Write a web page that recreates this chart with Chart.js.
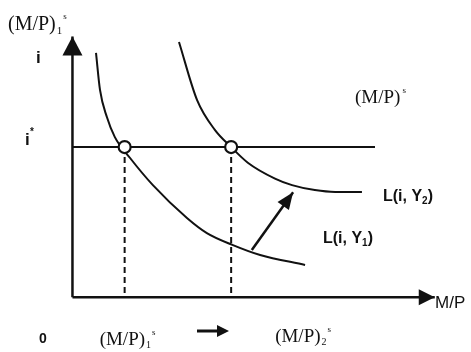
<!DOCTYPE html>
<html>
<head>
<meta charset="utf-8">
<script src="https://cdn.jsdelivr.net/npm/chart.js@4"></script>
<style>
  html, body { margin: 0; padding: 0; background: #fff; }
  canvas { display: block; }
</style>
</head>
<body>
<canvas id="chart" width="471" height="352"></canvas>
<script>
// money market: demand curves L(i,Y1), L(i,Y2), interest rate i*
var istar = 5.76;
var mp1 = 1.44;
var mp2 = 4.38;
var istarEnd = 8.35;
var axisMax = 10;

var demand1X = [0.65, 0.76, 0.95, 1.17, 1.59, 2.22, 3.16, 3.71, 4.43, 5.18, 6.42];
var demand1Y = [9.37, 7.95, 6.91, 6.14, 5.34, 4.30, 3.04, 2.46, 2.00, 1.62, 1.24];
var demand2X = [2.94, 3.44, 3.93, 4.38, 4.84, 5.59, 6.06, 6.69, 7.25, 7.99];
var demand2Y = [9.79, 7.56, 6.42, 5.76, 5.16, 4.55, 4.30, 4.11, 4.04, 4.04];
var shiftX = [4.95, 6.09];
var shiftY = [1.81, 4.03];

function pts(xs, ys) {
	return xs.map(function (x, i) { return { x: x, y: ys[i] }; });
}

var ink = '#111';

// filled head at the end of datasets marked arrow
var arrowHeads = {
	id: 'arrowHeads',
	afterDatasetsDraw: function (chart) {
		var ctx = chart.ctx;
		chart.data.datasets.forEach(function (ds, i) {
			if (!ds.arrow) return;
			var pts = chart.getDatasetMeta(i).data;
			var a = pts[pts.length - 2], b = pts[pts.length - 1];
			var ang = Math.atan2(b.y - a.y, b.x - a.x);
			var len = ds.arrow[0], half = ds.arrow[1];
			ctx.save();
			ctx.translate(b.x, b.y);
			ctx.rotate(ang);
			ctx.beginPath();
			ctx.moveTo(0, 0);
			ctx.lineTo(-len, -half);
			ctx.lineTo(-len, half);
			ctx.closePath();
			ctx.fillStyle = ink;
			ctx.fill();
			ctx.restore();
		});
	}
};

function mpLabel(ctx, x, base, size, sub) {
	ctx.font = size + 'px "Liberation Serif", "DejaVu Serif", serif';
	ctx.fillText('(M/P)', x, base);
	var w = ctx.measureText('(M/P)').width;
	var end = x + w + 1;
	if (sub) {
		ctx.font = Math.round(size * 0.55) + 'px "Liberation Serif", serif';
		ctx.fillText(sub, end, base + size * 0.18);
		end += ctx.measureText(sub).width;
	}
	ctx.font = Math.round(size * 0.45) + 'px "Liberation Serif", serif';
	ctx.fillText('s', end + 1, base - size * 0.55);
}

function lLabel(ctx, x, base, sub) {
	ctx.font = 'bold 16px "Liberation Sans", Arial, sans-serif';
	ctx.fillText('L(i, Y', x, base);
	var w = ctx.measureText('L(i, Y').width;
	ctx.font = 'bold 10px "Liberation Sans", Arial, sans-serif';
	ctx.fillText(sub, x + w, base + 3);
	var w2 = ctx.measureText(sub).width;
	ctx.font = 'bold 16px "Liberation Sans", Arial, sans-serif';
	ctx.fillText(')', x + w + w2, base);
}

var labels = {
	id: 'labels',
	afterDraw: function (chart) {
		var ctx = chart.ctx;
		var xs = chart.scales.x, ys = chart.scales.y;
		ctx.save();
		ctx.fillStyle = ink;
		ctx.textBaseline = 'alphabetic';
		ctx.textAlign = 'left';

		mpLabel(ctx, 8, 30, 20, '1');
		mpLabel(ctx, 355, 103, 19, null);
		mpLabel(ctx, xs.getPixelForValue(mp1) - 25, 345, 19, '1');
		mpLabel(ctx, xs.getPixelForValue(mp2) + 44, 342, 19, '2');

		ctx.font = 'bold 17px "Liberation Sans", Arial, sans-serif';
		ctx.fillText('i', 36, 63);
		var iy = ys.getPixelForValue(istar);
		ctx.fillText('i', 25, iy - 2);
		ctx.font = 'bold 10px "Liberation Sans", Arial, sans-serif';
		ctx.fillText('*', 30, iy - 12);

		lLabel(ctx, 383, 201, '2');
		lLabel(ctx, 323, 243, '1');

		ctx.font = '17px "Liberation Sans", Arial, sans-serif';
		ctx.fillText('M/P', 435, 308);
		ctx.font = 'bold 14px "Liberation Sans", Arial, sans-serif';
		ctx.fillText('0', 39, 343);

		// small arrow between the two supply labels
		ctx.strokeStyle = ink;
		ctx.lineWidth = 3;
		ctx.beginPath();
		ctx.moveTo(197, 331);
		ctx.lineTo(220, 331);
		ctx.stroke();
		ctx.beginPath();
		ctx.moveTo(229, 331);
		ctx.lineTo(217, 325);
		ctx.lineTo(217, 337);
		ctx.closePath();
		ctx.fill();
		ctx.restore();
	}
};

var ctx = document.getElementById('chart').getContext('2d');
var chart = new Chart(ctx, {
	type: 'scatter',
	data: {
		datasets: [
			{
				// equilibrium circles (first = drawn on top)
				data: [{ x: mp1, y: istar }, { x: mp2, y: istar }],
				showLine: false,
				pointRadius: 6,
				pointBackgroundColor: '#fff',
				pointBorderColor: ink,
				pointBorderWidth: 2.2
			},
			{
				data: pts(demand1X, demand1Y),
				showLine: true,
				borderColor: ink,
				borderWidth: 2,
				pointRadius: 0,
				cubicInterpolationMode: 'monotone'
			},
			{
				data: pts(demand2X, demand2Y),
				showLine: true,
				borderColor: ink,
				borderWidth: 2,
				pointRadius: 0,
				cubicInterpolationMode: 'monotone'
			},
			{
				data: [{ x: 0, y: istar }, { x: istarEnd, y: istar }],
				showLine: true,
				borderColor: ink,
				borderWidth: 2,
				pointRadius: 0
			},
			{
				data: [{ x: mp1, y: istar }, { x: mp1, y: 0 }],
				showLine: true,
				borderColor: ink,
				borderWidth: 2,
				borderDash: [6, 4],
				pointRadius: 0
			},
			{
				data: [{ x: mp2, y: istar }, { x: mp2, y: 0 }],
				showLine: true,
				borderColor: ink,
				borderWidth: 2,
				borderDash: [6, 4],
				pointRadius: 0
			},
			{
				data: pts(shiftX, shiftY),
				showLine: true,
				borderColor: ink,
				borderWidth: 2.5,
				pointRadius: 0,
				arrow: [17, 7]
			},
			{
				// vertical axis
				data: [{ x: 0, y: 0 }, { x: 0, y: axisMax }],
				showLine: true,
				borderColor: ink,
				borderWidth: 2.5,
				pointRadius: 0,
				arrow: [19, 10]
			},
			{
				// horizontal axis
				data: [{ x: 0, y: 0 }, { x: axisMax, y: 0 }],
				showLine: true,
				borderColor: ink,
				borderWidth: 2.5,
				pointRadius: 0,
				arrow: [16, 8]
			}
		]
	},
	options: {
		responsive: false,
		animation: false,
		layout: { padding: 0, autoPadding: false },
		scales: {
			x: { type: 'linear', min: -2, max: 11, display: false },
			y: { type: 'linear', min: -2.1, max: 11.4, display: false }
		},
		plugins: {
			legend: { display: false },
			tooltip: { enabled: false }
		}
	},
	plugins: [arrowHeads, labels]
});
</script>
</body>
</html>
